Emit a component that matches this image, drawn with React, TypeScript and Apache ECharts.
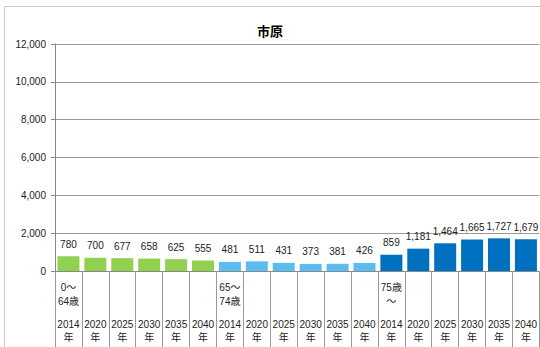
import React, { useEffect, useRef } from "react";
import * as echarts from "echarts";

const years = ["2014", "2020", "2025", "2030", "2035", "2040"];
const groups = [
  { age1: "0～", age2: "64歳", color: "#92D050" },
  { age1: "65～", age2: "74歳", color: "#5BBDEF" },
  { age1: "75歳", age2: "～", color: "#0070C0" },
];
const values = [
  780, 700, 677, 658, 625, 555,
  481, 511, 431, 373, 381, 426,
  859, 1181, 1464, 1665, 1727, 1679,
];
const yTicks = [0, 2000, 4000, 6000, 8000, 10000, 12000];

const FONT = "'Liberation Sans', 'Noto Sans CJK JP', sans-serif";

export default function App() {
  const ref = useRef<HTMLDivElement>(null);
  useEffect(() => {
    if (!ref.current) return;
    const chart = echarts.init(ref.current, null, { renderer: "svg" });
    const cats: string[] = [];
    const data: any[] = [];
    groups.forEach((g, gi) => {
      years.forEach((y, yi) => {
        const a1 = yi === 0 ? g.age1 : " ";
        const a2 = yi === 0 ? g.age2 : " ";
        cats.push(`{a|${a1}}\n{a|${a2}}\n{g| }\n{y|${y}}\n{n|年}`);
        data.push({ value: values[gi * 6 + yi], itemStyle: { color: g.color } });
      });
    });
    chart.setOption({
      animation: false,
      textStyle: { fontFamily: FONT },
      title: {
        text: "市原",
        left: "center",
        top: 19,
        textStyle: { fontSize: 13, fontWeight: "bold", color: "#000", fontFamily: "'Noto Sans CJK JP', sans-serif" },
      },
      graphic: [
        {
          type: "rect",
          shape: { x: 4.5, y: 6.5, width: 560, height: 360 },
          style: { fill: "none", stroke: "#c8c8c8", lineWidth: 1 },
          silent: true,
        },
      ],
      grid: { left: 55, right: -1, top: 44, bottom: 76, containLabel: false },
      xAxis: {
        type: "category",
        data: cats,
        axisLine: { show: true, lineStyle: { color: "#888", width: 1 } },
        axisTick: { show: true, length: 78, interval: 0, lineStyle: { color: "#999" } },
        axisLabel: {
          interval: 0,
          margin: 9,
          verticalAlign: "top",
          color: "#222",
          fontFamily: FONT,
          rich: {
            a: { fontSize: 10, lineHeight: 14, fontFamily: FONT, color: "#222" },
            g: { fontSize: 10, lineHeight: 9 },
            y: { fontSize: 10, lineHeight: 14, fontFamily: FONT, color: "#222" },
            n: { fontSize: 10, lineHeight: 12, fontFamily: FONT, color: "#222" },
          },
        },
      },
      yAxis: {
        type: "value",
        min: 0,
        max: 12000,
        interval: 2000,
        axisLine: { show: true, lineStyle: { color: "#888" } },
        axisTick: { show: true, length: 4, lineStyle: { color: "#888" } },
        axisLabel: {
          fontSize: 10,
          color: "#222",
          margin: 9,
          formatter: (v: number) => (yTicks.includes(v) ? v.toLocaleString("en-US") : ""),
        },
        splitLine: { lineStyle: { color: "#999", width: 1 } },
      },
      series: [
        {
          type: "bar",
          data,
          barWidth: 22,
          label: {
            show: true,
            position: "top",
            distance: 7,
            fontSize: 10,
            color: "#222",
            fontFamily: FONT,
            formatter: (p: any) => Number(p.value).toLocaleString("en-US"),
          },
        },
      ],
    });
    return () => chart.dispose();
  }, []);
  return (
    <div
      ref={ref}
      style={{ position: "absolute", left: 0, top: 0, width: 540, height: 347, background: "#fff" }}
    />
  );
}
